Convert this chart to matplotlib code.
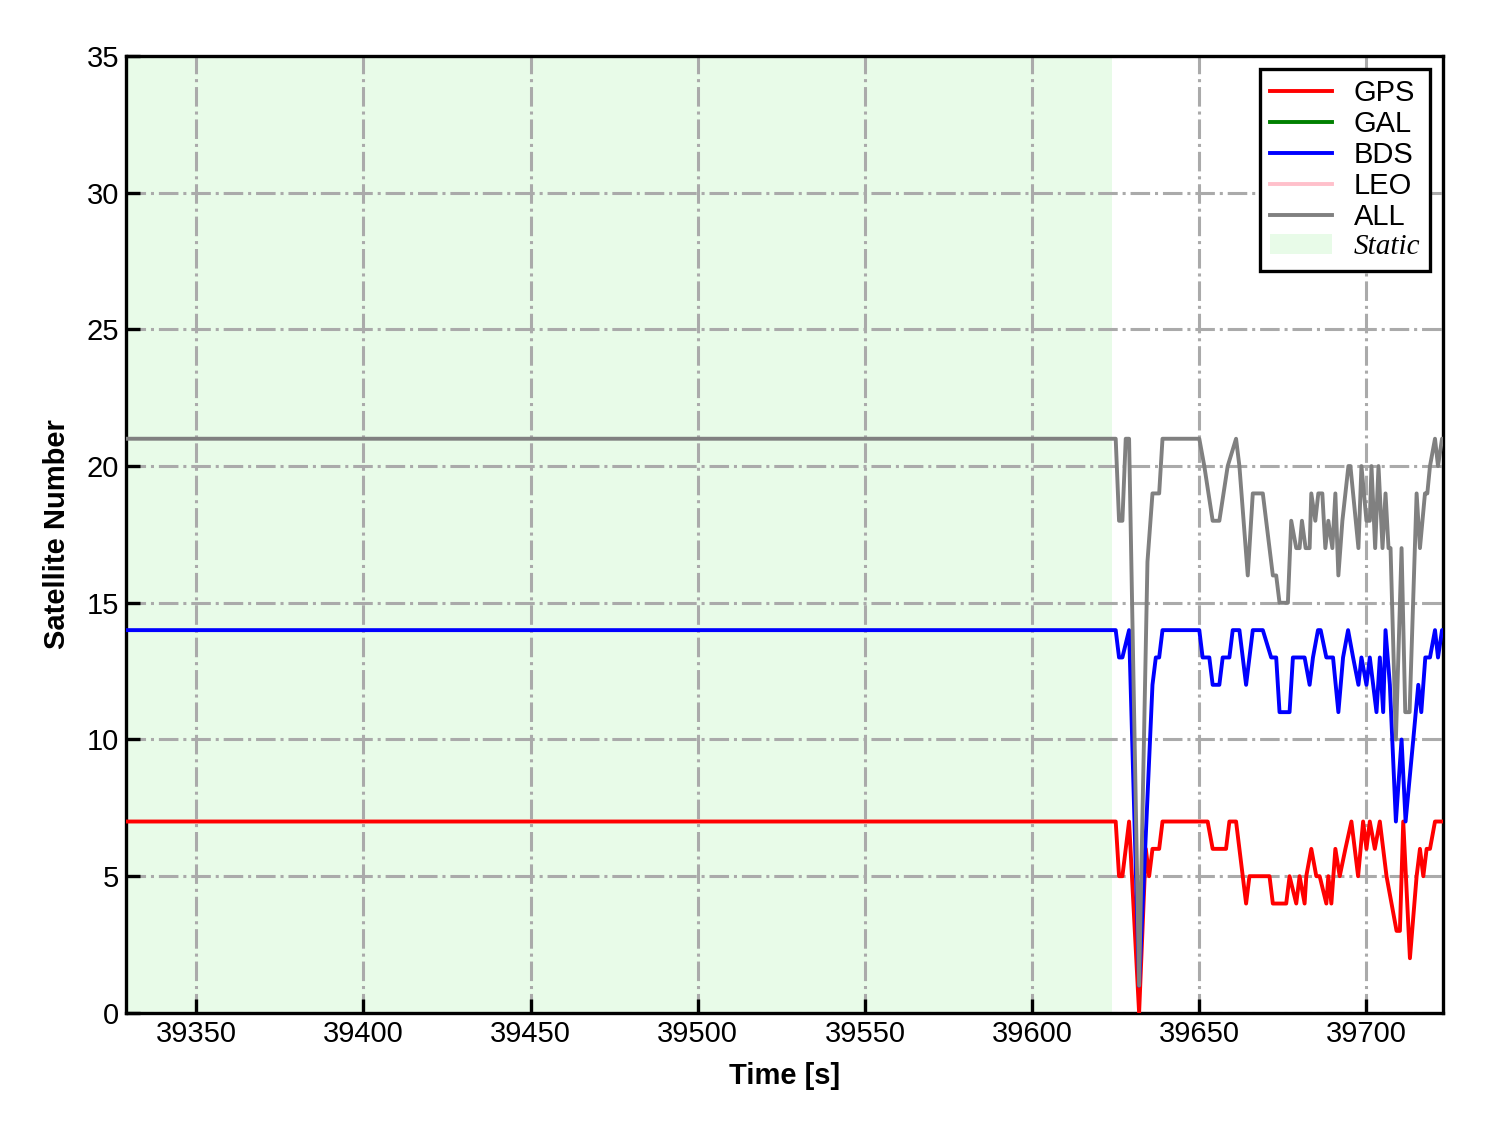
import matplotlib
matplotlib.use("Agg")
import matplotlib.pyplot as plt
from matplotlib.patches import Patch
from matplotlib.lines import Line2D

# (time in s, satellite count)
gps_t = [39329, 39625, 39626, 39627, 39629, 39632, 39634, 39635, 39636, 39638,
         39639, 39652.5, 39654, 39658, 39659, 39661, 39664, 39665, 39671, 39672,
         39676, 39677, 39679, 39680, 39681.5, 39682, 39683.5, 39685, 39686, 39688,
         39688.6, 39689.5, 39690.7, 39692, 39693.7, 39695.5, 39697.5, 39699, 39700, 39701,
         39702.5, 39704, 39706, 39709, 39710, 39711, 39713, 39715, 39716, 39717,
         39718, 39719, 39720.5, 39723]
gps_n = [7, 7, 5, 5, 7, 0, 6, 5, 6, 6,
         7, 7, 6, 6, 7, 7, 4, 5, 5, 4,
         4, 5, 4, 5, 4, 5, 6, 5, 5, 4,
         5, 4, 6, 5, 6, 7, 5, 7, 6, 7,
         6, 7, 5, 3, 3, 7, 2, 5, 6, 5,
         6, 6, 7, 7]

bds_t = [39329, 39625, 39626, 39627, 39629, 39632, 39636, 39637, 39638, 39639,
         39650, 39651, 39653, 39654, 39656, 39657, 39659, 39660, 39662, 39664,
         39666, 39669, 39671.5, 39673, 39674, 39677, 39678, 39681.5, 39683, 39684,
         39685.5, 39686.3, 39688, 39690, 39691.6, 39693, 39694.5, 39696, 39697.6, 39698.5,
         39700, 39701, 39703, 39704, 39705, 39705.7, 39707, 39708.8, 39710.5, 39711.7,
         39714, 39715.5, 39716.4, 39717.6, 39719, 39720.5, 39721.4, 39722.6, 39723]
bds_n = [14, 14, 13, 13, 14, 1, 12, 13, 13, 14,
         14, 13, 13, 12, 12, 13, 13, 14, 14, 12,
         14, 14, 13, 13, 11, 11, 13, 13, 12, 13,
         14, 14, 13, 13, 11, 13, 14, 13, 12, 13,
         12, 13, 11, 13, 11, 14, 12, 7, 10, 7,
         10, 12, 11, 13, 13, 14, 13, 14, 14]

all_t = [39329, 39625, 39626, 39627, 39628, 39629, 39632, 39634.5, 39636, 39638,
         39639, 39650, 39651.5, 39654, 39656, 39658.5, 39661, 39662, 39664.5, 39666,
         39669, 39672, 39673, 39674, 39676.5, 39677.5, 39679, 39680, 39680.7, 39681.8,
         39683, 39683.5, 39684.7, 39685.6, 39686.8, 39687.7, 39688.6, 39689.8, 39690.7, 39691.6,
         39692.8, 39694.6, 39695.2, 39697.6, 39698.5, 39700, 39701, 39701.5, 39702.6, 39703.6,
         39704.8, 39705.7, 39706.6, 39707.2, 39708.8, 39710.5, 39711.6, 39712.9, 39715, 39716,
         39717.5, 39718.2, 39719, 39720.5, 39721.4, 39722.6, 39723]
all_n = [21, 21, 18, 18, 21, 21, 1, 16.5, 19, 19,
         21, 21, 20, 18, 18, 20, 21, 20, 16, 19,
         19, 16, 16, 15, 15, 18, 17, 17, 18, 17,
         17, 19, 18, 19, 19, 17, 18, 17, 19, 16,
         18, 20, 20, 17, 20, 18, 18, 20, 17, 20,
         17, 19, 17, 17, 10, 17, 11, 11, 19, 17,
         19, 19, 20, 21, 20, 21, 21]

static_start = 39329
static_end = 39624

plt.rcParams['font.family'] = ['Liberation Sans', 'DejaVu Sans']

fig = plt.figure(figsize=(14.88, 11.33), dpi=100)
ax = fig.add_axes([0.0847, 0.106, 0.8853, 0.8446])

ax.axvspan(static_start, static_end, color='lightgreen', alpha=0.2, lw=0, zorder=0)

lw = 2.8
ax.plot(gps_t, gps_n, color='red', lw=lw, zorder=3)
ax.plot([], [], color='green', lw=lw)
ax.plot(bds_t, bds_n, color='blue', lw=lw, zorder=3)
ax.plot([], [], color='pink', lw=lw)
ax.plot(all_t, all_n, color='gray', lw=lw, zorder=4)

ax.set_xlim(39329, 39723)
ax.set_ylim(0, 35)
ax.set_xticks([39350, 39400, 39450, 39500, 39550, 39600, 39650, 39700])
ax.set_yticks([0, 5, 10, 15, 20, 25, 30, 35])

ax.grid(True, color='#aaaaaa', lw=2.2, linestyle='-.', zorder=1)
ax.set_axisbelow(True)

for s in ax.spines.values():
    s.set_linewidth(2.4)
    s.set_color('black')
ax.tick_params(direction='in', length=10, width=2.4, labelsize=21, pad=5)

ax.set_xlabel('Time [s]', fontsize=21, fontweight='bold', labelpad=10)
ax.set_ylabel('Satellite Number', fontsize=21, fontweight='bold', labelpad=11)

handles = [Line2D([], [], color='red', lw=lw, label='GPS'),
           Line2D([], [], color='green', lw=lw, label='GAL'),
           Line2D([], [], color='blue', lw=lw, label='BDS'),
           Line2D([], [], color='pink', lw=lw, label='LEO'),
           Line2D([], [], color='gray', lw=lw, label='ALL'),
           Patch(facecolor='lightgreen', alpha=0.2, lw=0, label='Static')]
leg = ax.legend(handles=handles, loc='upper right', fontsize=21, fancybox=False,
                edgecolor='black', framealpha=1, handlelength=2.1, handletextpad=0.75,
                labelspacing=0.1, borderaxespad=0.45, borderpad=0.35)
leg.get_frame().set_linewidth(2.4)
txt = leg.get_texts()[-1]
txt.set_fontfamily(['Liberation Serif', 'DejaVu Serif'])
txt.set_fontstyle('italic')

fig.savefig('out.png', dpi=100)
